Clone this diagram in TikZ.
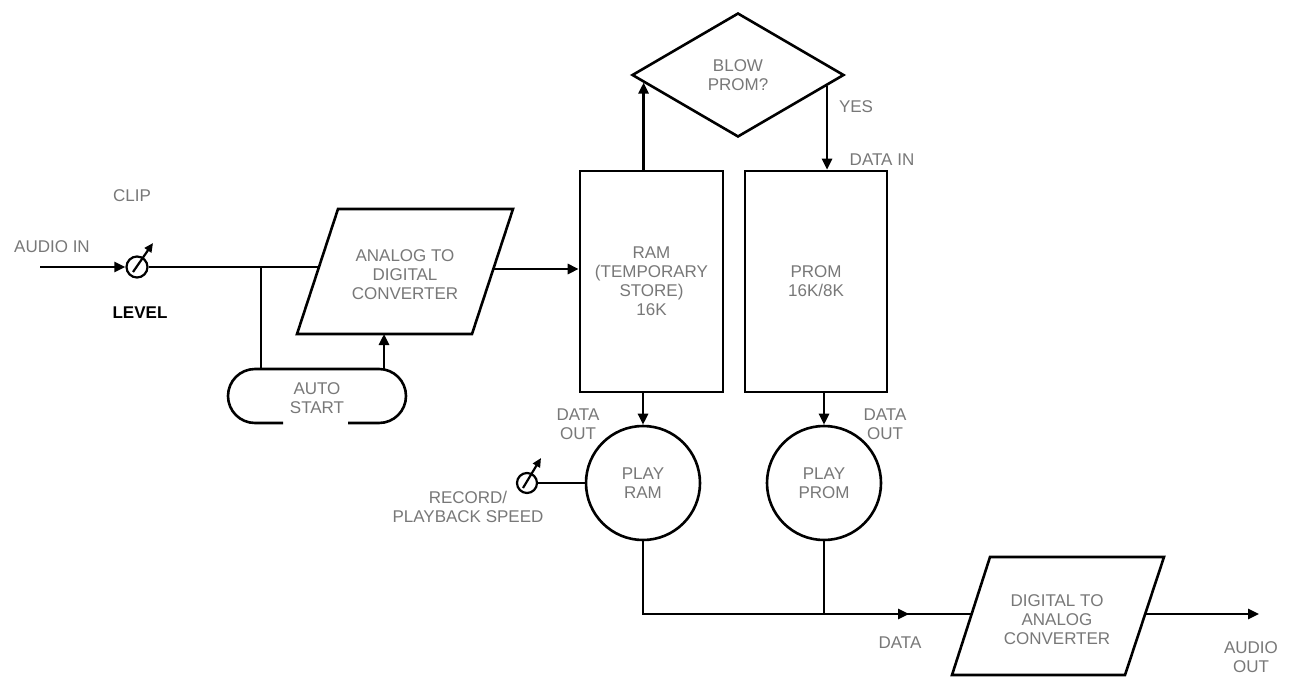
\documentclass[tikz,border=0pt]{standalone}
\usepackage{fontspec}
\setmainfont{Liberation Sans}
\usetikzlibrary{arrows.meta,shapes.geometric,calc}
\definecolor{txtgray}{RGB}{120,120,120}
\begin{document}
\begin{tikzpicture}[x=1pt,y=-1pt,
  wire/.style={line width=2.6pt, line join=miter},
  arr/.style={wire,-{Triangle[length=11pt,width=10pt]}},
  needle/.style={line width=2.2pt,-{Triangle[length=9pt,width=8pt]}},
  lbl/.style={text=txtgray, font=\fontsize{17}{19}\selectfont, align=center, inner sep=0pt},
  box/.style={draw, line width=2.6pt, rectangle, inner sep=0pt, lbl, text=txtgray},
  knob/.style={draw, line width=2.2pt, circle, inner sep=0pt, minimum size=21pt},
  play/.style={draw, line width=2.6pt, circle, inner sep=0pt, minimum size=114pt, lbl}]
\useasboundingbox (0,0) rectangle (1289,677);
\fill[white] (0,0) rectangle (1289,677);

% ---- input section
\coordinate (ain) at (40,267);
\node[knob] (lvl) at (137,267) {};
\node[lbl] (tin) at (52,247) {AUDIO IN};
\node[lbl] (tclip) at (132,196) {CLIP};
\node[lbl, text=black, font=\fontsize{17}{19}\selectfont\bfseries] (tlevel) at (140,313) {LEVEL};
\draw[needle] ($(lvl.center)+(-4,5)$) -- ++(20,-29);

% ---- ADC
\draw[wire] (338,209) -- (513,209) -- (472,334) -- (297,334) -- cycle;
\node[lbl] (adc) at (405,275) {ANALOG TO\\DIGITAL\\CONVERTER};
\coordinate (adcL) at (319,267);
\coordinate (adcR) at (494,269);
\coordinate (adcB) at (384,334);

% ---- auto start
\draw[wire] (283,423) -- (255,423) arc[start angle=90,end angle=270,radius=27]
  -- (379,369) arc[start angle=270,end angle=450,radius=27] -- (348,423);
\node[lbl] (auto) at (317,398) {AUTO\\START};
\coordinate (autotop) at (317,369);
\coordinate (j) at (261,267);

% ---- memories
\node[box, minimum width=143pt, minimum height=221pt] (ram) at (651.5,281.5) {RAM\\(TEMPORARY\\STORE)\\16K};
\node[box, minimum width=142pt, minimum height=221pt] (prom) at (816,281.5) {PROM\\16K/8K};
\node[draw, line width=2.6pt, diamond, inner sep=0pt, minimum width=212pt, minimum height=124pt, lbl] (bp) at (738,75) {BLOW\\PROM?};
\node[lbl] (tyes) at (856,107) {YES};
\node[lbl] (tdin) at (882,160) {DATA IN};

% ---- players
\node[play] (pram) at (643,483) {PLAY\\RAM};
\node[play] (pprom) at (824,483) {PLAY\\PROM};
\node[lbl] (tdo1) at (578,424) {DATA\\OUT};
\node[lbl] (tdo2) at (885,424) {DATA\\OUT};
\node[knob, minimum size=20pt] (spd) at (527,483) {};
\draw[needle] ($(spd.center)+(-4,5)$) -- ++(18,-30);
\node[lbl] (tspd) at (468,507) {RECORD/\\PLAYBACK SPEED};

% ---- DAC
\draw[wire] (990,557) -- (1164,557) -- (1125,675) -- (952,675) -- cycle;
\node[lbl] (dac) at (1057,620) {DIGITAL TO\\ANALOG\\CONVERTER};
\coordinate (dacL) at (971.5,614);
\coordinate (dacR) at (1145,614);
\coordinate (dataarr) at (909,614);
\coordinate (aout) at (1259,614);
\node[lbl] (tdata) at (900,643) {DATA};
\node[lbl] (taout) at (1251,657) {AUDIO\\OUT};

% ---- connectors
\draw[arr] (ain) -- (lvl.west);
\draw[wire] (lvl.east) -- (adcL);
\draw[wire] (j) -- (j |- autotop);
\draw[arr] (autotop -| adcB) -- (adcB);
\draw[arr] (adcR) -- (adcR -| ram.west);
\coordinate (P) at ($(bp.west)!0.12!(bp.south)$);
\coordinate (Q) at ($(bp.east)!0.17!(bp.south)$);
\draw[arr] (P |- ram.north) -- (P);
\draw[arr] (Q) -- (Q |- prom.north);
\draw[arr] (pram.north |- ram.south) -- (pram.north);
\draw[arr] (pprom.north |- prom.south) -- (pprom.north);
\draw[wire] (spd.east) -- (pram.west);
\draw[wire] (pram.south) |- (dacL);
\draw[wire] (pprom.south) -- (pprom.south |- dacL);
\draw[arr] ($(dataarr)+(-12,0)$) -- (dataarr);
\draw[arr] (dacR) -- (aout);
\end{tikzpicture}
\end{document}
